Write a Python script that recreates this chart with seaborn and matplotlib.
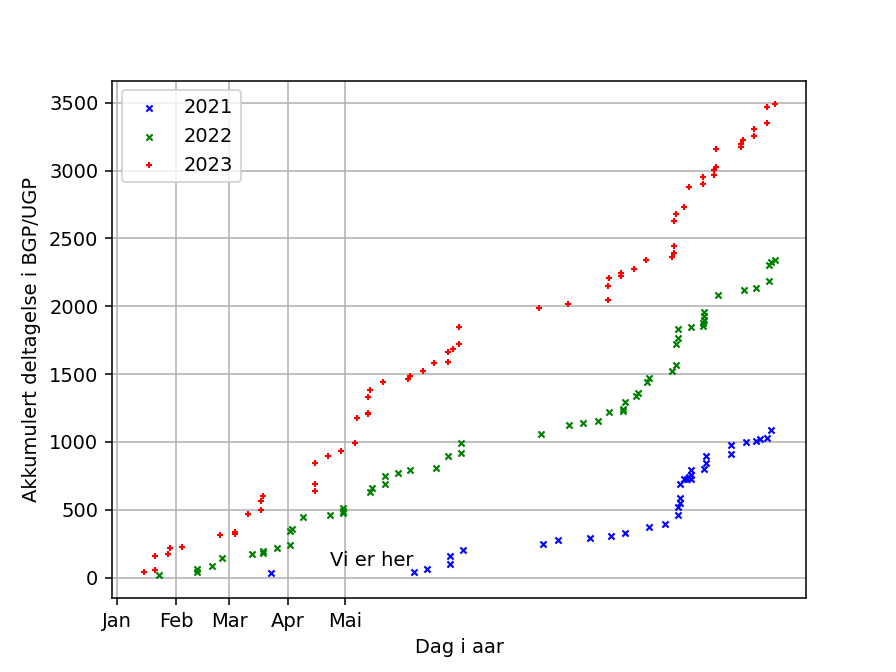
import pandas as pd
import matplotlib
matplotlib.use("Agg")
import matplotlib.pyplot as plt
import seaborn as sns

# dag i aaret og akkumulert deltagelse, lest av figuren
dager_2021 = [82, 157, 164, 176, 176, 183, 225, 233, 250, 261, 268, 281, 289, 296, 296,
              297, 297, 297, 299, 301, 302, 303, 303, 303, 310, 311, 311, 324, 324, 332,
              337, 339, 343, 345]
verdi_2021 = [35, 42, 66, 101, 162, 206, 250, 280, 295, 309, 331, 375, 398, 464, 523,
              552, 589, 692, 729, 729, 744, 758, 795, 729, 802, 842, 898, 913, 979, 1001,
              1009, 1023, 1031, 1090]

dager_2022 = [23, 43, 43, 51, 56, 72, 78, 78, 85, 92, 92, 93, 99, 113, 120, 120, 120, 134,
              135, 142, 142, 149, 155, 169, 175, 182, 182, 224, 239, 246, 254, 260, 267, 267,
              268, 274, 275, 280, 281, 293, 295, 295, 296, 296, 303, 309, 309, 310, 310, 310,
              317, 331, 337, 344, 344, 345, 347]
verdi_2022 = [22, 38, 60, 84, 143, 177, 184, 199, 216, 243, 341, 361, 449, 464, 479, 493, 511,
              631, 663, 692, 751, 773, 793, 808, 898, 920, 994, 1060, 1126, 1137, 1156, 1222,
              1227, 1244, 1293, 1340, 1360, 1441, 1468, 1522, 1568, 1723, 1765, 1833, 1848,
              1857, 1875, 1900, 1930, 1960, 2081, 2120, 2135, 2187, 2304, 2326, 2341]

dager_2023 = [15, 21, 21, 28, 29, 35, 55, 63, 63, 70, 77, 77, 78, 105, 105, 105, 112, 119,
              126, 127, 133, 133, 133, 134, 141, 154, 155, 162, 168, 175, 175, 178, 181, 181,
              223, 238, 259, 259, 260, 266, 266, 273, 279, 293, 294, 294, 294, 295, 299, 302,
              309, 309, 315, 315, 316, 316, 329, 329, 330, 336, 336, 343, 343, 347]
verdi_2023 = [42, 59, 162, 174, 216, 228, 317, 322, 336, 471, 496, 567, 604, 640, 692, 847,
              898, 935, 994, 1178, 1203, 1215, 1333, 1384, 1443, 1465, 1487, 1524, 1583, 1588,
              1662, 1684, 1723, 1848, 1988, 2017, 2047, 2150, 2209, 2221, 2246, 2275, 2341,
              2363, 2393, 2444, 2628, 2680, 2731, 2879, 2901, 2952, 2965, 3004, 3026, 3158,
              3173, 3195, 3225, 3254, 3306, 3350, 3467, 3490]

maaned_dager = [1, 32, 60, 91, 121]
maaned_navn = ["Jan", "Feb", "Mar", "Apr", "Mai"]

serier = [
    ("2021", dager_2021, verdi_2021, "blue", "x"),
    ("2022", dager_2022, verdi_2022, "green", "x"),
    ("2023", dager_2023, verdi_2023, "red", "+"),
]

fig, ax = plt.subplots(figsize=(6.4, 4.8), dpi=140)

for navn, dager, verdier, farge, markor in serier:
    df = pd.DataFrame({"dag": dager, "antall": verdier})
    sns.scatterplot(data=df, x="dag", y="antall", ax=ax, marker=markor, color=farge,
                    edgecolor=farge, s=10, linewidth=1.1, label=navn)

ax.text(113, 85, "Vi er her")

ax.set_xticks(maaned_dager)
ax.set_xticklabels(maaned_navn)
ax.grid(True)
ax.set_axisbelow(True)
ax.set_xlabel("Dag i aar")
ax.set_ylabel("Akkumulert deltagelse i BGP/UGP")
ax.legend(loc="upper left")

plt.savefig("out.png")
